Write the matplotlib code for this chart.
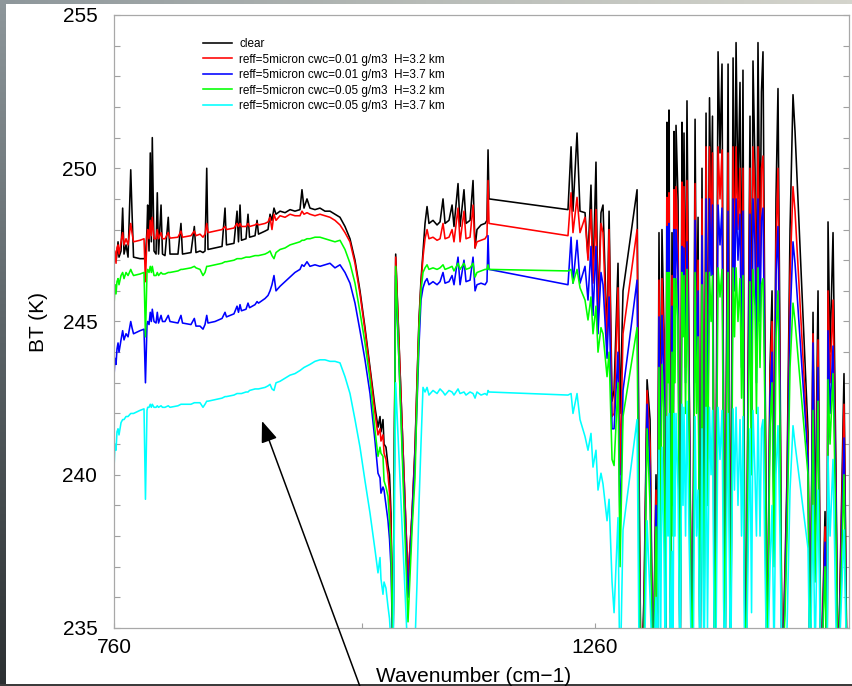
import matplotlib
matplotlib.use('Agg')
import matplotlib.pyplot as plt
import numpy as np
from matplotlib.colors import LinearSegmentedColormap

plt.rcParams['font.family'] = ['Liberation Sans', 'DejaVu Sans']

# ---------------- data ----------------
wavenumber = [
    760.0, 761.0, 762.1, 763.1, 764.2, 765.2, 767.3, 769.0, 770.4, 772.5,
    774.6, 777.4, 778.7, 780.3, 787.0, 791.2, 792.7, 794.3, 795.0, 796.4,
    797.7, 798.8, 799.8, 801.6, 803.7, 805.0, 806.3, 808.9, 810.4, 813.0,
    816.4, 818.2, 826.5, 829.6, 831.2, 840.0, 843.5, 845.2, 849.4, 852.5,
    854.6, 856.4, 857.7, 865.0, 872.3, 875.4, 876.9, 884.7, 887.9, 889.4,
    891.0, 892.5, 897.2, 899.3, 900.9, 906.6, 908.7, 910.2, 917.0, 920.1,
    922.2, 924.2, 926.3, 928.4, 932.6, 937.8, 943.0, 948.1, 953.3, 955.4,
    957.5, 960.6, 963.7, 968.9, 974.1, 979.3, 984.5, 989.7, 994.9, 1000.1,
    1005.3, 1010.5, 1015.7, 1020.9, 1026.1, 1031.3, 1034.4, 1036.5, 1037.5, 1039.6,
    1040.7, 1042.7, 1044.8, 1046.4, 1047.9, 1050.0, 1052.8, 1065.6, 1069.8, 1072.9,
    1075.0, 1077.0, 1079.1, 1081.2, 1083.3, 1085.4, 1087.4, 1091.6, 1095.8, 1098.9,
    1102.0, 1104.1, 1108.2, 1111.4, 1113.4, 1117.6, 1119.7, 1123.8, 1125.9, 1130.1,
    1133.2, 1135.3, 1137.3, 1141.5, 1145.7, 1147.7, 1148.8, 1149.8, 1231.9, 1235.1,
    1237.1, 1241.3, 1244.4, 1249.6, 1252.7, 1255.8, 1257.9, 1261.0, 1263.1, 1266.2,
    1268.3, 1272.5, 1274.6, 1277.7, 1279.8, 1283.9, 1286.0, 1289.1,
    # dense line region
    1303.7, 1305.8, 1307.8, 1310.9, 1314.1, 1317.2, 1320.3, 1323.4, 1325.0, 1326.5,
    1328.1, 1329.6, 1331.7, 1333.3, 1334.8, 1335.9, 1336.9, 1338.5, 1340.0, 1341.1,
    1342.1, 1343.1, 1344.2, 1346.3, 1348.4, 1350.4, 1351.5, 1352.5, 1354.1, 1355.6,
    1357.7, 1360.8, 1362.4, 1364.0, 1365.5, 1367.1, 1369.2, 1371.2, 1373.3, 1375.4,
    1376.9, 1379.0, 1380.6, 1382.1, 1384.2, 1385.8, 1387.9, 1389.9, 1392.0, 1393.6,
    1395.1, 1396.7, 1398.3, 1400.9, 1403.5, 1405.0, 1406.6, 1408.6, 1410.7, 1412.3,
    1413.8, 1415.4, 1417.0, 1419.0, 1421.1, 1422.7, 1424.2, 1426.3, 1427.8, 1429.4,
    1431.5, 1433.0, 1434.6, 1436.7, 1438.8, 1441.9, 1444.0, 1446.1, 1448.1, 1450.2,
    1452.3, 1454.4, 1457.5, 1459.6, 1462.7, 1465.8, 1467.9, 1481.4, 1483.5, 1486.6,
    1488.7, 1491.8, 1494.9, 1499.1, 1501.2, 1502.2, 1504.3, 1507.4, 1510.5, 1512.6,
    1518.8, 1522.0, 1526.1,
]

bt_clear = [
    247.0, 247.1, 247.0, 247.2, 247.6, 247.1, 247.3, 248.7, 247.2, 247.5,
    247.1, 249.95, 248.6, 247.1, 247.05, 247.05, 247.1, 248.0, 248.8, 247.3,
    250.5, 247.6, 251.0, 247.3, 247.2, 249.2, 247.2, 248.8, 247.2, 247.15,
    248.4, 247.2, 247.2, 248.2, 247.2, 247.25, 248.1, 247.25, 247.3, 247.25,
    247.3, 250.0, 247.35, 247.4, 247.45, 248.7, 247.5, 247.55, 248.6, 247.6,
    248.8, 247.65, 247.7, 248.5, 247.75, 247.8, 248.3, 247.85, 247.95, 248.0,
    248.5, 248.3, 248.7, 248.5, 248.6, 248.55, 248.65, 248.6, 248.65, 249.3,
    248.7, 249.0, 248.7, 248.65, 248.7, 248.6, 248.6, 248.5, 248.4, 248.1,
    247.7, 247.0, 246.0, 244.8, 243.5, 242.2, 241.55, 241.9, 241.4, 241.8,
    241.0, 240.9, 240.3, 240.0, 238.75, 234.0, 247.2, 236.5, 238.75, 240.9,
    243.1, 245.05, 246.35, 247.3, 248.2, 248.75, 248.2, 248.3, 248.15, 248.25,
    249.0, 248.2, 248.3, 248.8, 248.1, 249.5, 248.1, 249.3, 248.2, 248.3,
    249.6, 247.4, 248.0, 248.15, 248.2, 248.3, 250.6, 249.0, 248.65, 250.7,
    248.6, 251.15, 248.6, 248.55, 247.1, 249.45, 246.35, 250.2, 245.15, 248.55,
    248.8, 244.4, 248.6, 242.4, 242.75, 246.9, 242.0, 246.0,
    249.3, 240.0, 233.0, 236.0, 243.1, 241.8, 233.0, 240.0, 236.0, 247.9,
    240.0, 248.0, 244.7, 233.0, 251.5, 246.0, 251.9, 236.0, 247.9, 240.0,
    251.2, 245.0, 251.4, 248.95, 233.0, 251.5, 247.0, 251.15, 244.0, 252.2,
    243.75, 233.0, 240.0, 251.6, 244.0, 248.4, 233.0, 250.0, 236.0, 251.8,
    241.0, 252.3, 248.6, 251.7, 233.0, 240.0, 253.8, 250.5, 253.4, 242.0,
    233.0, 244.0, 253.4, 233.0, 253.6, 247.0, 254.1, 249.0, 252.8, 244.5,
    253.2, 238.0, 233.0, 243.0, 251.7, 242.0, 253.5, 250.0, 244.0, 254.1,
    247.2, 252.5, 253.8, 244.0, 233.0, 243.5, 246.0, 239.0, 249.0, 252.6,
    244.0, 233.0, 237.0, 240.0, 248.0, 252.4, 251.2, 241.4, 233.0, 245.3,
    238.0, 246.0, 233.0, 238.8, 233.0, 248.25, 244.0, 247.9, 240.0, 233.0,
    243.3, 233.0, 236.0,
]

bt_cwc001_h32 = [
    246.8, 247.3, 246.9, 247.4, 247.5, 247.2, 247.6, 247.9, 247.5, 247.7,
    247.5, 248.2, 247.9, 247.6, 247.65, 247.7, 246.3, 247.8, 248.0, 247.7,
    248.3, 247.8, 248.4, 247.7, 247.7, 248.0, 247.7, 247.9, 247.7, 247.7,
    247.9, 247.72, 247.75, 247.95, 247.75, 247.8, 247.95, 247.8, 247.85, 247.75,
    247.85, 248.2, 247.9, 247.95, 248.0, 248.1, 248.0, 248.05, 248.2, 248.1,
    248.2, 248.1, 248.1, 248.2, 248.1, 248.15, 248.2, 248.15, 248.2, 248.25,
    248.4, 248.0, 248.5, 248.3, 248.45, 248.4, 248.5, 248.45, 248.45, 248.6,
    248.5, 248.55, 248.5, 248.45, 248.5, 248.45, 248.4, 248.3, 248.15, 247.9,
    247.6, 246.9, 245.9, 244.7, 243.4, 242.0, 241.3, 241.5, 241.1, 241.3,
    240.7, 240.5, 240.0, 239.4, 238.2, 234.0, 247.1, 236.6, 238.7, 240.8,
    243.0, 244.9, 246.2, 247.1, 247.7, 248.0, 247.7, 247.75, 247.65, 247.7,
    248.2, 247.7, 247.75, 248.0, 247.6, 248.7, 247.6, 248.6, 247.7, 247.75,
    248.8, 247.4, 247.6, 247.65, 247.7, 247.8, 249.6, 248.2, 247.8, 249.2,
    247.9, 249.05, 247.9, 248.4, 247.0, 248.65, 246.25, 248.65, 245.0, 248.2,
    247.9, 244.1, 248.0, 241.9, 242.0, 246.1, 240.0, 244.6,
    248.0, 239.0, 233.0, 235.5, 242.75, 241.0, 233.0, 239.5, 235.5, 246.35,
    239.0, 246.4, 244.0, 233.0, 249.05, 245.0, 249.2, 235.5, 246.5, 239.5,
    249.3, 244.5, 249.4, 247.5, 233.0, 249.55, 246.5, 249.4, 243.5, 249.6,
    243.3, 233.0, 239.5, 249.5, 243.5, 247.0, 233.0, 249.0, 235.5, 250.7,
    240.5, 250.7, 247.5, 250.5, 233.0, 239.5, 250.7, 249.0, 250.6, 241.5,
    233.0, 243.5, 250.5, 233.0, 250.7, 246.5, 250.7, 248.0, 250.0, 244.0,
    250.0, 237.5, 233.0, 242.5, 250.0, 241.5, 250.7, 249.0, 243.5, 250.7,
    246.0, 250.0, 250.4, 243.5, 233.0, 243.0, 245.0, 238.5, 247.5, 250.0,
    243.0, 233.0, 236.5, 239.5, 246.5, 249.4, 248.6, 240.8, 233.0, 244.6,
    237.5, 244.4, 233.0, 238.3, 233.0, 246.0, 243.0, 245.7, 239.5, 233.0,
    242.3, 233.0, 235.8,
]

bt_cwc001_h37 = [
    243.2, 243.8, 243.6, 244.1, 244.3, 244.0, 244.4, 244.7, 244.4, 244.6,
    244.5, 245.0, 244.8, 244.6, 244.7, 244.75, 243.0, 244.9, 245.0, 244.9,
    245.3, 245.0, 245.4, 245.0, 244.95, 245.3, 244.95, 245.2, 245.0, 245.0,
    245.2, 245.0, 244.95, 245.2, 244.95, 244.9, 245.1, 244.85, 244.85, 244.75,
    244.9, 245.2, 244.95, 245.0, 245.1, 245.3, 245.15, 245.25, 245.5, 245.3,
    245.55, 245.35, 245.4, 245.6, 245.45, 245.55, 245.65, 245.6, 245.75, 245.85,
    246.0, 246.2, 246.5, 246.0, 246.15, 246.3, 246.45, 246.6, 246.7, 246.85,
    246.8, 246.95, 246.8, 246.85, 246.8, 246.85, 246.9, 246.75, 246.85, 246.6,
    246.25, 245.6, 244.7, 243.75, 242.65, 241.1, 240.05, 239.9, 239.4, 239.6,
    239.5, 239.0, 238.5, 237.9, 237.0, 234.0, 246.5, 236.0, 238.5, 240.5,
    242.3, 244.2, 245.7, 246.1, 246.3, 246.4, 246.2, 246.3, 246.2, 246.3,
    246.6, 246.25, 246.3, 246.5, 246.2, 247.1, 246.2, 247.0, 246.3, 246.35,
    247.1, 246.0, 246.2, 246.25, 246.2, 246.3, 247.8, 246.7, 246.2, 247.75,
    246.25, 247.65, 246.25, 246.8, 245.7, 247.45, 245.2, 247.45, 244.6, 246.6,
    246.2, 243.8, 245.8, 241.5, 241.5, 244.0, 238.0, 242.75,
    246.35, 238.0, 233.0, 235.0, 242.3, 240.0, 233.0, 239.0, 235.0, 245.15,
    238.5, 245.2, 243.3, 233.0, 248.1, 244.0, 248.2, 235.0, 245.5, 239.0,
    248.0, 244.0, 248.0, 246.5, 233.0, 247.45, 245.5, 247.4, 243.0, 247.6,
    242.8, 233.0, 239.0, 248.3, 243.0, 246.0, 233.0, 247.8, 235.0, 249.0,
    240.0, 249.0, 246.5, 248.8, 233.0, 239.0, 248.8, 247.5, 248.7, 241.0,
    233.0, 243.0, 248.6, 233.0, 249.0, 246.0, 249.0, 247.0, 248.5, 243.5,
    248.6, 237.0, 233.0, 242.0, 248.5, 241.0, 249.0, 247.5, 243.0, 249.0,
    245.0, 248.3, 248.7, 243.0, 233.0, 242.5, 244.0, 238.0, 246.5, 248.1,
    242.5, 233.0, 236.0, 239.0, 245.0, 247.6, 246.9, 240.5, 233.0, 244.3,
    237.2, 243.5, 233.0, 237.8, 233.0, 244.7, 242.0, 244.2, 239.0, 233.0,
    241.2, 233.0, 235.5,
]

bt_cwc005_h32 = [
    245.5, 246.2, 245.9, 246.3, 246.4, 246.2, 246.5, 246.6, 246.4, 246.6,
    246.5, 246.7, 246.6, 246.5, 246.55, 246.6, 244.5, 246.6, 246.7, 246.6,
    246.8, 246.6, 246.8, 246.5, 246.5, 246.6, 246.5, 246.6, 246.55, 246.55,
    246.6, 246.6, 246.65, 246.7, 246.7, 246.75, 246.8, 246.75, 246.7, 246.5,
    246.6, 246.8, 246.8, 246.85, 246.9, 246.95, 246.95, 247.0, 247.05, 247.05,
    247.05, 247.05, 247.1, 247.1, 247.1, 247.15, 247.15, 247.15, 247.2, 247.25,
    247.3, 247.15, 247.05, 247.25, 247.35, 247.4, 247.5, 247.55, 247.6, 247.65,
    247.65, 247.7, 247.7, 247.75, 247.75, 247.7, 247.65, 247.6, 247.65, 247.35,
    246.9, 246.25, 245.3, 244.3, 243.1, 241.45, 240.6, 240.9, 240.7, 240.6,
    239.8, 239.6, 239.3, 238.5, 237.65, 234.0, 246.8, 235.2, 238.2, 239.9,
    242.5, 244.7, 246.0, 246.6, 246.75, 246.85, 246.7, 246.75, 246.7, 246.75,
    246.85, 246.7, 246.75, 246.8, 246.65, 246.9, 246.7, 246.9, 246.7, 246.75,
    246.9, 246.45, 246.6, 246.65, 246.7, 246.7, 246.85, 246.7, 246.65, 246.7,
    246.25, 246.7, 246.1, 245.7, 245.05, 245.8, 244.6, 245.5, 244.0, 244.8,
    244.6, 243.2, 244.0, 240.5, 240.3, 243.0, 237.0, 241.9,
    244.8, 237.0, 233.0, 234.5, 241.5, 239.0, 233.0, 238.3, 234.5, 243.5,
    237.5, 243.6, 242.0, 233.0, 246.6, 243.0, 246.6, 234.5, 244.0, 238.0,
    246.4, 243.0, 246.4, 245.0, 233.0, 246.6, 244.5, 246.5, 242.0, 246.7,
    241.8, 233.0, 238.0, 246.6, 242.0, 244.5, 233.0, 246.2, 234.0, 246.6,
    239.0, 246.6, 245.0, 246.5, 233.0, 238.0, 246.75, 245.8, 246.7, 240.0,
    233.0, 242.0, 246.6, 233.0, 246.75, 244.5, 246.75, 245.0, 246.4, 242.5,
    246.5, 236.0, 233.0, 241.0, 246.3, 240.0, 246.7, 245.5, 242.0, 246.75,
    243.5, 246.2, 246.4, 242.0, 233.0, 241.5, 243.0, 237.0, 244.5, 246.0,
    241.5, 233.0, 235.5, 238.0, 243.5, 245.6, 245.0, 240.0, 233.0, 242.1,
    236.5, 242.4, 233.0, 237.0, 233.0, 243.1, 241.0, 243.3, 238.0, 233.0,
    240.0, 233.0, 235.0,
]

bt_cwc005_h37 = [
    240.2, 241.0, 240.8, 241.4, 241.5, 241.3, 241.7, 241.8, 241.8, 241.9,
    241.9, 242.0, 242.0, 242.0, 242.1, 242.15, 239.2, 242.1, 242.2, 242.2,
    242.3, 242.2, 242.3, 242.2, 242.2, 242.25, 242.2, 242.25, 242.2, 242.2,
    242.25, 242.2, 242.25, 242.3, 242.3, 242.3, 242.35, 242.35, 242.35, 242.2,
    242.3, 242.4, 242.4, 242.45, 242.5, 242.55, 242.55, 242.6, 242.65, 242.65,
    242.65, 242.65, 242.7, 242.7, 242.75, 242.8, 242.8, 242.8, 242.85, 242.9,
    242.95, 242.8, 242.75, 243.0, 243.05, 243.15, 243.25, 243.3, 243.4, 243.45,
    243.5, 243.55, 243.6, 243.7, 243.75, 243.75, 243.7, 243.7, 243.65, 243.2,
    242.65, 241.8, 240.9, 239.8, 238.75, 237.55, 236.8, 237.3, 236.6, 236.1,
    236.5, 236.3, 235.7, 235.3, 234.5, 233.5, 243.0, 234.0, 234.0, 234.5,
    236.5, 239.0, 241.0, 242.85, 242.7, 242.85, 242.6, 242.75, 242.65, 242.8,
    242.7, 242.6, 242.75, 242.7, 242.6, 242.8, 242.65, 242.7, 242.6, 242.7,
    242.65, 242.5, 242.7, 242.6, 242.65, 242.6, 242.75, 242.7, 242.6, 242.65,
    242.0, 242.65, 241.8, 241.25, 240.8, 241.35, 240.25, 240.8, 239.5, 240.05,
    239.7, 238.5, 239.2, 236.5, 235.5, 238.6, 233.0, 238.2,
    241.8, 234.0, 233.0, 233.0, 238.5, 236.0, 233.0, 236.0, 233.0, 240.8,
    234.0, 240.9, 237.5, 233.0, 241.9, 238.0, 242.0, 233.0, 237.5, 234.0,
    242.0, 238.0, 242.0, 239.5, 233.0, 242.3, 239.0, 242.2, 238.0, 242.4,
    238.0, 233.0, 235.0, 241.9, 238.0, 239.5, 233.0, 241.5, 233.0, 242.2,
    235.0, 242.2, 240.0, 242.1, 233.0, 234.5, 242.2, 240.5, 242.1, 236.0,
    233.0, 238.0, 242.0, 233.0, 242.15, 239.5, 242.2, 239.0, 241.8, 238.0,
    241.9, 234.0, 233.0, 237.0, 241.5, 235.5, 242.1, 240.0, 238.0, 242.2,
    238.0, 241.5, 241.8, 237.0, 233.0, 237.0, 239.0, 234.0, 240.0, 241.6,
    238.0, 233.0, 233.5, 235.0, 239.5, 241.6, 241.0, 237.6, 233.0, 239.0,
    234.0, 239.5, 233.0, 234.0, 233.0, 240.6, 238.0, 240.5, 235.0, 233.0,
    238.2, 233.0, 234.0,
]

series = [bt_clear, bt_cwc001_h32, bt_cwc001_h37, bt_cwc005_h32, bt_cwc005_h37]
labels = [
    'clear',
    'reff=5micron cwc=0.01 g/m3  H=3.2 km',
    'reff=5micron cwc=0.01 g/m3  H=3.7 km',
    'reff=5micron cwc=0.05 g/m3  H=3.2 km',
    'reff=5micron cwc=0.05 g/m3  H=3.7 km',
]
colors = ['#000000', '#ff0000', '#0000ff', '#00ff00', '#00ffff']

x_major = [760, 1260]
y_major = [235, 240, 245, 250, 255]

# ---------------- figure ----------------
W, H = 852, 686
fig = plt.figure(figsize=(W / 100, H / 100), dpi=100)

# slide background
bg = fig.add_axes([0, 0, 1, 1], zorder=-10)
bg.axis('off')
vcmap = LinearSegmentedColormap.from_list('v', ['#2c3032', '#5a6266', '#8e979b'])
bg.imshow(np.linspace(0, 1, 256)[:, None], extent=(0, W, 0, H), aspect='auto',
          cmap=vcmap, origin='lower', interpolation='bilinear')
hcmap = LinearSegmentedColormap.from_list('h', ['#8e979b', '#b8bcb8', '#d4d4cc'])
bg.imshow(np.linspace(0, 1, 256)[None, :], extent=(0, W, H - 4, H), aspect='auto',
          cmap=hcmap, origin='lower', interpolation='bilinear')
bg.add_patch(plt.Rectangle((6, 2), W - 6, H - 6, facecolor='white', edgecolor='none'))
bg.add_patch(plt.Rectangle((0, 0), W, 2, facecolor='#3c3c3c', edgecolor='none'))
bg.set_xlim(0, W)
bg.set_ylim(0, H)

ax = fig.add_axes([114 / W, (H - 628) / H, 735 / W, 613 / H])
ax.set_facecolor('none')
handles = []
for y, c, lab in zip(series, colors, labels):
    ln, = ax.plot(wavenumber, y, color=c, lw=1.15, label=lab)
    handles.append(ln)

ax.set_xlim(760, 1524)
ax.set_ylim(235, 255)
ax.set_xticks(x_major)
ax.set_xticks([1018], minor=True)
ax.set_yticks(y_major)
ax.set_yticks(np.arange(235, 256, 1), minor=True)
ax.tick_params(axis='y', which='both', direction='in', left=True, right=True,
               length=4.5, width=0.8, color='#a0a0a0', labelsize=15, pad=12)
ax.tick_params(axis='x', which='both', direction='in', top=False, bottom=True,
               length=3.5, width=0.8, color='#a0a0a0', labelsize=15, pad=7)
for s in ax.spines.values():
    s.set_color('#a8a8a8')
    s.set_linewidth(0.9)

leg = ax.legend(handles, labels, loc='upper left',
                bbox_to_anchor=((203 - 114) / 735, (628 - 38) / 613),
                frameon=False, fontsize=8.5, handlelength=2.45, handletextpad=0.6,
                labelspacing=0.3, borderpad=0, borderaxespad=0)

fig.text(39 / W, 1 - 322 / H, 'BT (K)', rotation=90, ha='center', va='center', fontsize=15)
fig.text(474 / W, 1 - 676 / H, 'Wavenumber (cm\u22121)', ha='center', va='center', fontsize=15)

# annotation arrow
ov = fig.add_axes([0, 0, 1, 1], zorder=10)
ov.set_xlim(0, W)
ov.set_ylim(0, H)
ov.axis('off')
ov.annotate('', xy=(262, H - 421), xytext=(362, -6), annotation_clip=False,
            arrowprops=dict(arrowstyle='-|>,head_length=0.65,head_width=0.25',
                            color='black', lw=1.1, mutation_scale=20,
                            shrinkA=0, shrinkB=0))

fig.savefig('out.png', dpi=100)
